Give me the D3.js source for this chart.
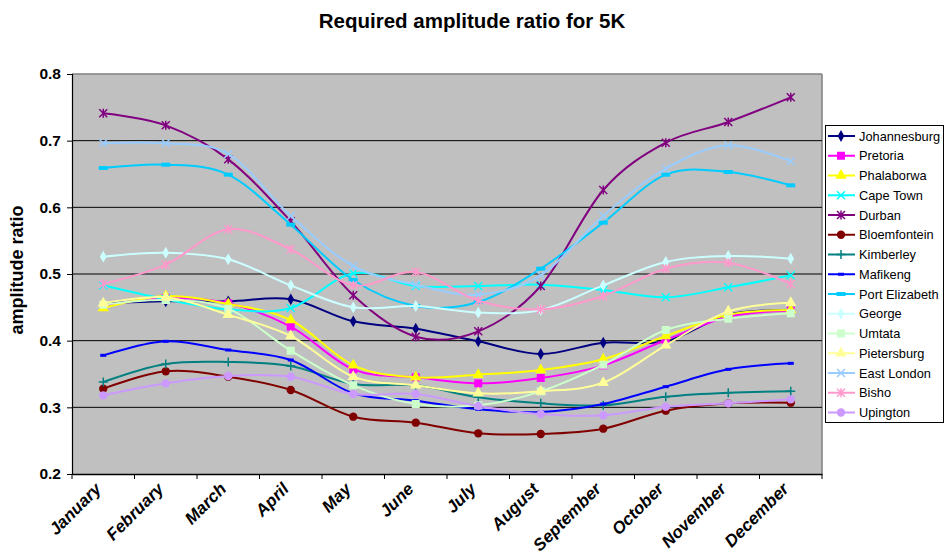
<!DOCTYPE html>
<html><head><meta charset="utf-8">
<script src="https://cdn.jsdelivr.net/npm/d3@7"></script>
<style>body{margin:0;background:#fff}svg{display:block;font-family:"Liberation Sans",Arial,sans-serif}</style>
</head><body><svg id="c" width="945" height="558"></svg>
<script>
const months = ["January","February","March","April","May","June","July","August","September","October","November","December"];
const yTicks = [0.2,0.3,0.4,0.5,0.6,0.7,0.8];
const seriesNames = ["Johannesburg","Pretoria","Phalaborwa","Cape Town","Durban","Bloemfontein","Kimberley","Mafikeng","Port Elizabeth","George","Umtata","Pietersburg","East London","Bisho","Upington"];
const johannesburg  = [0.456,0.459,0.459,0.462,0.429,0.418,0.399,0.380,0.397,0.399,0.439,0.446];
const pretoria      = [0.452,0.464,0.456,0.421,0.357,0.345,0.336,0.344,0.363,0.401,0.436,0.445];
const phalaborwa    = [0.449,0.467,0.455,0.431,0.363,0.345,0.349,0.356,0.372,0.407,0.439,0.446];
const capeTown      = [0.483,0.462,0.447,0.449,0.501,0.482,0.482,0.484,0.476,0.465,0.480,0.498];
const durban        = [0.741,0.723,0.672,0.579,0.468,0.406,0.414,0.482,0.626,0.697,0.728,0.765];
const bloemfontein  = [0.328,0.354,0.346,0.326,0.286,0.277,0.261,0.260,0.268,0.295,0.306,0.307];
const kimberley     = [0.338,0.365,0.368,0.362,0.335,0.333,0.315,0.306,0.303,0.316,0.322,0.324];
const mafikeng      = [0.378,0.399,0.386,0.371,0.321,0.310,0.297,0.293,0.305,0.331,0.357,0.366];
const portElizabeth = [0.659,0.664,0.649,0.574,0.491,0.452,0.458,0.508,0.577,0.649,0.653,0.633];
const george        = [0.526,0.532,0.522,0.483,0.450,0.452,0.442,0.446,0.483,0.518,0.527,0.523];
const umtata        = [0.454,0.461,0.448,0.385,0.333,0.305,0.303,0.324,0.364,0.416,0.433,0.441];
const pietersburg   = [0.456,0.465,0.439,0.407,0.346,0.333,0.321,0.324,0.337,0.393,0.444,0.457];
const eastLondon    = [0.696,0.696,0.680,0.587,0.512,0.484,0.469,0.498,0.587,0.658,0.693,0.669];
const bisho         = [0.485,0.514,0.567,0.537,0.483,0.503,0.460,0.447,0.467,0.508,0.517,0.485];
const upington      = [0.318,0.336,0.347,0.346,0.320,0.320,0.302,0.290,0.288,0.301,0.306,0.312];
const seriesValues = [johannesburg,pretoria,phalaborwa,capeTown,durban,bloemfontein,kimberley,mafikeng,portElizabeth,george,umtata,pietersburg,eastLondon,bisho,upington];
const colors = ["#000080","#FF00FF","#FFFF00","#00FFFF","#800080","#800000","#008080","#0000FF","#00CCFF","#CCFFFF","#CCFFCC","#FFFF99","#99CCFF","#FF99CC","#CC99FF"];
const markers = ["diamond","square","triangle","x","star","circle","plus","dash","longdash","diamond","square","triangle","x","star","circle"];

const svg = d3.select("#c");
const L=72, R=822, T=74, B=474;
const x = d3.scaleBand().domain(months).range([L,R]);
const y = d3.scaleLinear().domain([0.2,0.8]).range([B,T]);

svg.append("text").attr("x",472).attr("y",28).attr("text-anchor","middle")
  .attr("font-size",20.5).attr("font-weight","bold").text("Required amplitude ratio for 5K");

svg.append("rect").attr("x",L).attr("y",T).attr("width",R-L).attr("height",B-T).attr("fill","#C0C0C0");
svg.append("line").attr("x1",L).attr("x2",R).attr("y1",T).attr("y2",T).attr("stroke","#808080").attr("stroke-width",1.5);
svg.append("line").attr("x1",R).attr("x2",R).attr("y1",T).attr("y2",B).attr("stroke","#808080").attr("stroke-width",1.5);
svg.append("g").selectAll("line").data(yTicks.filter(v=>v>0.2&&v<0.8)).join("line")
  .attr("x1",L).attr("x2",R).attr("y1",d=>y(d)).attr("y2",d=>y(d)).attr("stroke","#000").attr("stroke-width",1);

const ya = svg.append("g").attr("transform",`translate(${L},0)`)
  .call(d3.axisLeft(y).tickValues(yTicks).tickFormat(d3.format(".1f")).tickSize(5).tickPadding(6));
ya.select(".domain").attr("stroke","#000").attr("stroke-width",1.2);
ya.selectAll("text").attr("font-size",15.5).attr("font-weight","bold").attr("font-family","Liberation Sans, Arial");

const xa = svg.append("g").attr("transform",`translate(0,${B})`)
  .call(d3.axisBottom(x).tickSize(0).tickFormat(""));
xa.select(".domain").attr("stroke","#000").attr("stroke-width",1.5);
svg.append("g").selectAll("line").data(months.concat(["__end"])).join("line")
  .attr("x1",(d,i)=>L+i*x.bandwidth()).attr("x2",(d,i)=>L+i*x.bandwidth())
  .attr("y1",B).attr("y2",B+5).attr("stroke","#000");
svg.append("g").selectAll("text").data(months).join("text")
  .attr("transform",d=>`translate(${x(d)+x.bandwidth()/2-1},${B+16}) rotate(-45)`)
  .attr("text-anchor","end").attr("font-size",17).attr("font-weight","bold").attr("font-style","italic")
  .text(d=>d);

svg.append("text").attr("transform","translate(23,270) rotate(-90)").attr("text-anchor","middle")
  .attr("font-size",18).attr("font-weight","bold").text("amplitude ratio");

function drawMarker(g, type, color, cx, cy){
  const sw=1.5;
  switch(type){
    case "diamond": g.append("path").attr("d",d3.symbol(d3.symbolDiamond,40)()).attr("transform",`translate(${cx},${cy})`).attr("fill",color); break;
    case "square": g.append("rect").attr("x",cx-4).attr("y",cy-4).attr("width",8).attr("height",8).attr("fill",color); break;
    case "triangle": g.append("path").attr("d",d3.symbol(d3.symbolTriangle,55)()).attr("transform",`translate(${cx},${cy})`).attr("fill",color); break;
    case "circle": g.append("circle").attr("cx",cx).attr("cy",cy).attr("r",4.2).attr("fill",color); break;
    case "x": g.append("path").attr("d",`M${cx-4},${cy-4}L${cx+4},${cy+4}M${cx-4},${cy+4}L${cx+4},${cy-4}`).attr("stroke",color).attr("stroke-width",sw).attr("fill","none"); break;
    case "star": g.append("path").attr("d",`M${cx-4},${cy-4}L${cx+4},${cy+4}M${cx-4},${cy+4}L${cx+4},${cy-4}M${cx},${cy-4.5}L${cx},${cy+4.5}`).attr("stroke",color).attr("stroke-width",sw).attr("fill","none"); break;
    case "plus": g.append("path").attr("d",`M${cx-4.5},${cy}L${cx+4.5},${cy}M${cx},${cy-4.5}L${cx},${cy+4.5}`).attr("stroke",color).attr("stroke-width",sw).attr("fill","none"); break;
    case "dash": g.append("rect").attr("x",cx-3).attr("y",cy-1.5).attr("width",6).attr("height",3).attr("fill",color); break;
    case "longdash": g.append("rect").attr("x",cx-4.5).attr("y",cy-2).attr("width",9).attr("height",4).attr("fill",color); break;
  }
}

const line = d3.line().x((d,i)=>x(months[i])+x.bandwidth()/2).y(d=>y(d)).curve(d3.curveCardinal.tension(0));
const plot = svg.append("g");
seriesValues.forEach((vals,si)=>{
  const g = plot.append("g");
  g.append("path").attr("d",line(vals)).attr("fill","none").attr("stroke",colors[si]).attr("stroke-width",2);
  vals.forEach((v,i)=>drawMarker(g,markers[si],colors[si],x(months[i])+x.bandwidth()/2,y(v)));
});

// legend
const lg = svg.append("g");
lg.append("rect").attr("x",825.5).attr("y",125.5).attr("width",118).attr("height",297).attr("fill","#fff").attr("stroke","#000");
seriesNames.forEach((n,i)=>{
  const cy = 136 + i*19.75;
  lg.append("line").attr("x1",828).attr("x2",855).attr("y1",cy).attr("y2",cy).attr("stroke",colors[i]).attr("stroke-width",2);
  drawMarker(lg,markers[i],colors[i],841,cy);
  lg.append("text").attr("x",859).attr("y",cy+4.5).attr("font-size",12.8).text(n);
});
</script></body></html>
